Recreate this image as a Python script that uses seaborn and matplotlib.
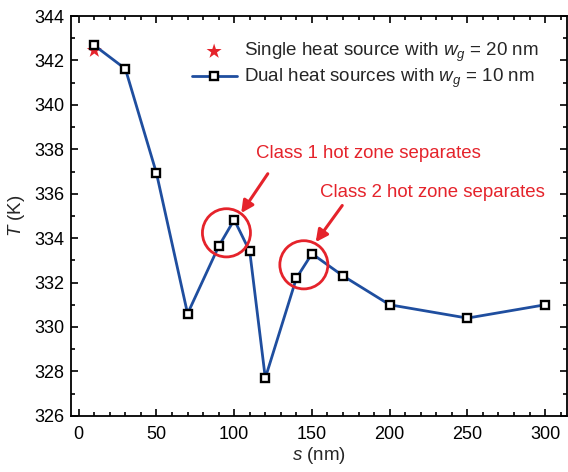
import numpy as np
import pandas as pd
import matplotlib
matplotlib.use("Agg")
import matplotlib.pyplot as plt
import seaborn as sns
from matplotlib.ticker import MultipleLocator
from matplotlib.patches import Ellipse

# data
s_dual = [10, 30, 50, 70, 90, 100, 110, 120, 140, 150, 170, 200, 250, 300]
T_dual = [342.68, 341.62, 336.92, 330.6, 333.63, 334.83, 333.4, 327.7,
          332.2, 333.3, 332.3, 331.0, 330.4, 331.0]
s_single = [10]
T_single = [342.45]

label_single = r"Single heat source with $w_g$ = 20 nm"
label_dual = r"Dual heat sources with $w_g$ = 10 nm"
ann1 = "Class 1 hot zone separates"
ann2 = "Class 2 hot zone separates"

RED = "#e5232b"
BLUE = "#1f4e9f"

sns.set_style("ticks")
plt.rcParams["font.family"] = ["Liberation Sans", "DejaVu Sans"]
plt.rcParams["mathtext.fontset"] = "custom"
plt.rcParams["mathtext.rm"] = "Liberation Sans"
plt.rcParams["mathtext.it"] = "Liberation Sans:italic"
plt.rcParams["mathtext.bf"] = "Liberation Sans:bold"

fig = plt.figure(figsize=(5.68, 4.72), dpi=100)
ax = fig.add_axes([0.125, 0.119, 0.873, 0.847])

df_dual = pd.DataFrame({"s": s_dual, "T": T_dual})
df_single = pd.DataFrame({"s": s_single, "T": T_single})

sns.scatterplot(data=df_single, x="s", y="T", marker="*", s=130, color=RED,
                edgecolor="none", ax=ax, zorder=3, label=label_single)
sns.lineplot(data=df_dual, x="s", y="T", marker="s", markersize=5.8,
             markerfacecolor="white", markeredgecolor="black", markeredgewidth=1.7,
             color=BLUE, linewidth=2.0, ax=ax, zorder=4, label=label_dual,
             sort=False)

ax.set_xlim(-5, 314)
ax.set_ylim(326, 344)
ax.xaxis.set_major_locator(MultipleLocator(50))
ax.xaxis.set_minor_locator(MultipleLocator(10))
ax.yaxis.set_major_locator(MultipleLocator(2))
ax.yaxis.set_minor_locator(MultipleLocator(1))
ax.tick_params(which="both", direction="in", top=True, right=True,
               width=1.2, colors="black", labelsize=13)
ax.tick_params(which="major", length=5)
ax.tick_params(which="minor", length=3)
ax.tick_params(axis="x", pad=7)
ax.tick_params(axis="y", pad=5)
for sp in ax.spines.values():
    sp.set_linewidth(1.3)
    sp.set_color("black")

ax.set_xlabel(r"$s$ (nm)", fontsize=13.5, labelpad=2)
ax.set_ylabel(r"$T$ (K)", fontsize=13.5, labelpad=5)

# annotations
for cx, cy in [(95.0, 334.24), (144.8, 332.8)]:
    e = Ellipse((cx, cy), width=30.9, height=2.17, fill=False,
                edgecolor=RED, linewidth=2.0, zorder=5)
    ax.add_patch(e)

ax.annotate("", xy=(104.5, 335.13), xytext=(121.6, 336.9),
            arrowprops=dict(arrowstyle="-|>", color=RED, lw=2.2, mutation_scale=18,
                            shrinkA=0, shrinkB=0), zorder=6)
ax.annotate("", xy=(152.4, 333.82), xytext=(169.5, 335.47),
            arrowprops=dict(arrowstyle="-|>", color=RED, lw=2.2, mutation_scale=18,
                            shrinkA=0, shrinkB=0), zorder=6)
ax.text(114.2, 337.8, ann1, color=RED, fontsize=13.4, va="center", ha="left")
ax.text(155.4, 336.07, ann2, color=RED, fontsize=13.4, va="center", ha="left")

leg = ax.legend(loc="upper right", bbox_to_anchor=(0.994, 1.0), frameon=False,
                fontsize=13.5, handlelength=2.4, handletextpad=0.4,
                labelspacing=0.15, borderaxespad=0.94)

fig.savefig("out.png", dpi=100)
